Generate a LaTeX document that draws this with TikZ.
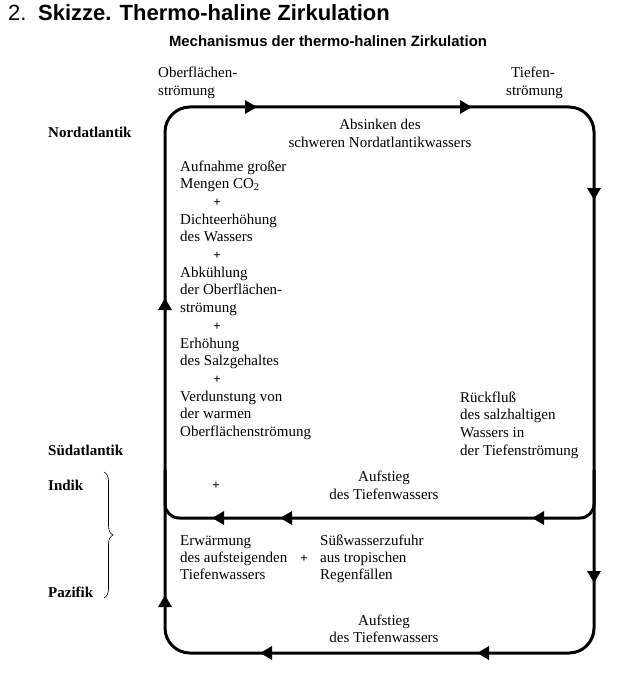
\documentclass[tikz,border=0pt]{standalone}
\usepackage{fontspec}
\setmainfont{Liberation Serif}
\setsansfont{Liberation Sans}
\usetikzlibrary{arrows.meta,decorations.pathreplacing}
\begin{document}
\begin{tikzpicture}[x=1pt,y=-1pt,
  flow/.style={line width=3pt},
  head/.style={line width=3pt,-{Triangle[length=12pt,width=13pt]}},
  txt/.style={anchor=base west,inner sep=0pt,font=\fontsize{15}{17.7}\selectfont},
  ctxt/.style={anchor=base,inner sep=0pt,font=\fontsize{15}{17.7}\selectfont},
  sea/.style={anchor=base west,inner sep=0pt,font=\fontsize{15}{17.7}\selectfont\bfseries},
  plus/.style={anchor=base,inner sep=0pt,font=\fontsize{13}{15}\selectfont\bfseries},
  bracestyle/.style={line width=0.6pt,decorate,decoration={brace,amplitude=9pt}}]
\useasboundingbox (0,0) rectangle (622,674);
% titles
\node[anchor=base west,inner sep=0pt,font=\fontsize{22}{26}\selectfont\sffamily] (num) at (8,21) {2.};
\node[anchor=base west,inner sep=0pt,font=\fontsize{22}{26}\selectfont\sffamily\bfseries] (title) at (38,21) {Skizze. Thermo-haline Zirkulation};
\node[anchor=base,inner sep=0pt,font=\fontsize{14.9}{18}\selectfont\sffamily\bfseries] (sub) at (328,47) {Mechanismus der thermo-halinen Zirkulation};
% column heads
\node[txt] (ob1) at (158,78) {Oberflächen-};
\node[txt] (ob2) at (158,96) {strömung};
\node[txt] (ti1) at (511,78) {Tiefen-};
\node[txt] (ti2) at (506,96) {strömung};
% seas
\node[sea] (nord) at (48,137) {Nordatlantik};
\node[sea] (sued) at (48,455) {Südatlantik};
\node[sea] (indik) at (48,490) {Indik};
\node[sea] (pazif) at (48,597) {Pazifik};
\coordinate (brtop) at (104,472);
\coordinate (brbot) at (104,598);
\draw[bracestyle] (brtop) -- (brbot);
% geometry of the loops
\coordinate (TL) at (165,107);
\coordinate (BR) at (594,653);
\coordinate (ML0) at (165,470);
\coordinate (ML) at (165,518);
\coordinate (MR) at (594,518);
\coordinate (MR0) at (594,470);
\draw[flow,rounded corners=25pt] (TL) rectangle (BR);
\draw[flow,rounded corners=14pt] (ML0) -- (ML) -- (MR) -- (MR0);
% arrowheads
\draw[head] (250,107) -- (257,107);
\draw[head] (465,107) -- (472,107);
\draw[head] (594,193) -- (594,200);
\draw[head] (594,576) -- (594,583);
\draw[head] (539,518) -- (532,518);
\draw[head] (287,518) -- (280,518);
\draw[head] (219,518) -- (212,518);
\draw[head] (484,653) -- (477,653);
\draw[head] (267,653) -- (260,653);
\draw[head] (165,305) -- (165,298);
\draw[head] (165,602) -- (165,595);
% north text
\node[ctxt] (abs1) at (380,129) {Absinken des};
\node[ctxt] (abs2) at (380,147) {schweren Nordatlantikwassers};
% left column
\node[txt] (l0) at (180,171) {Aufnahme großer};
\node[txt] (l1) at (180,188.7) {Mengen CO\textsubscript{2}};
\node[plus] (p1) at (217,206.4) {+};
\node[txt] (l3) at (180,224.1) {Dichteerhöhung};
\node[txt] (l4) at (180,241.8) {des Wassers};
\node[plus] (p2) at (217,259.5) {+};
\node[txt] (l6) at (180,277.2) {Abkühlung};
\node[txt] (l7) at (180,294.9) {der Oberflächen-};
\node[txt] (l8) at (180,312.6) {strömung};
\node[plus] (p3) at (217,330.3) {+};
\node[txt] (l10) at (180,348) {Erhöhung};
\node[txt] (l11) at (180,365.7) {des Salzgehaltes};
\node[plus] (p4) at (217,383.4) {+};
\node[txt] (l13) at (180,401.1) {Verdunstung von};
\node[txt] (l14) at (180,418.8) {der warmen};
\node[txt] (l15) at (180,436.5) {Oberflächenströmung};
% right column
\node[txt] (r0) at (460,402) {Rückfluß};
\node[txt] (r1) at (460,419.7) {des salzhaltigen};
\node[txt] (r2) at (460,437.4) {Wassers in};
\node[txt] (r3) at (460,455.1) {der Tiefenströmung};
% south atlantic
\node[plus] (p5) at (216,489) {+};
\node[ctxt] (auf1) at (384,481) {Aufstieg};
\node[ctxt] (auf2) at (384,499) {des Tiefenwassers};
% indik / pazifik
\node[txt] (e0) at (180,545) {Erwärmung};
\node[txt] (e1) at (180,562) {des aufsteigenden};
\node[txt] (e2) at (180,579) {Tiefenwassers};
\node[plus] (p6) at (304,562) {+};
\node[txt] (s0) at (320,545) {Süßwasserzufuhr};
\node[txt] (s1) at (320,562) {aus tropischen};
\node[txt] (s2) at (320,579) {Regenfällen};
\node[ctxt] (bot1) at (384,625) {Aufstieg};
\node[ctxt] (bot2) at (384,642) {des Tiefenwassers};
\end{tikzpicture}
\end{document}
